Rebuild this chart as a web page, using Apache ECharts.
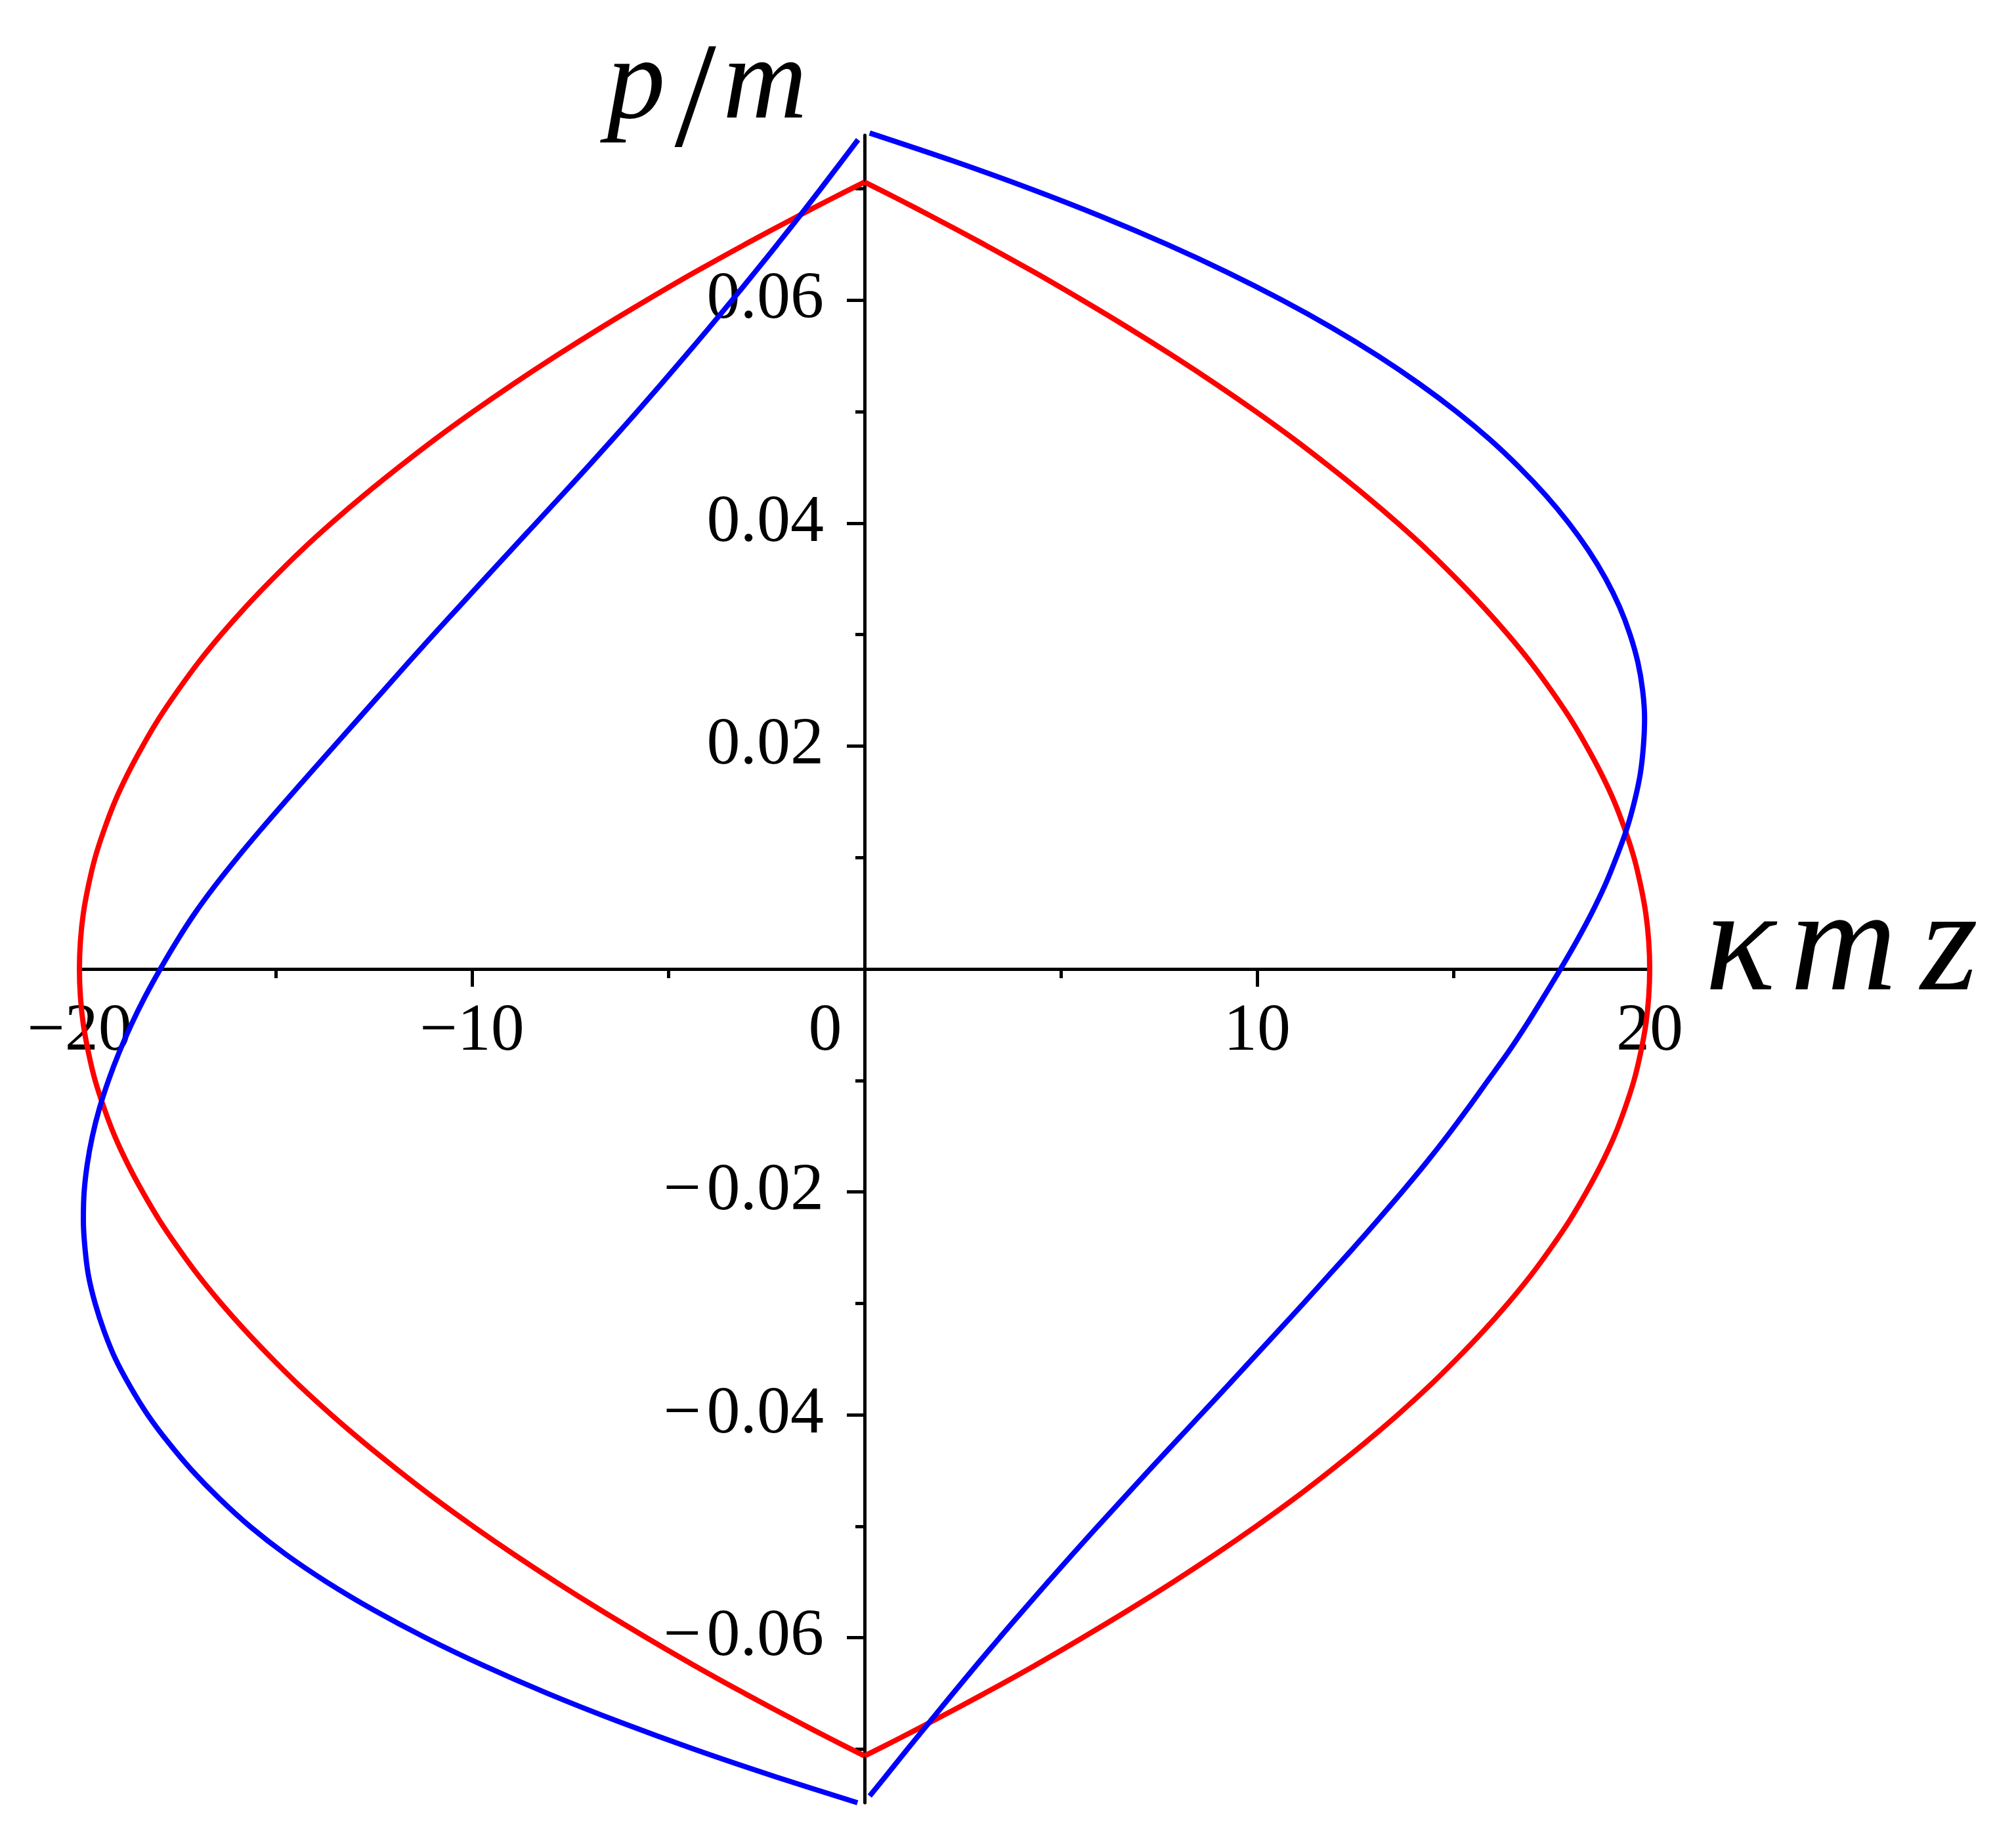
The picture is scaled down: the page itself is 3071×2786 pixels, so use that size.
<!DOCTYPE html>
<html>
<head>
<meta charset="utf-8">
<script src="https://cdn.jsdelivr.net/npm/echarts@6/dist/echarts.min.js"></script>
<style>
  html, body { margin: 0; padding: 0; background: #fff; }
  #main { width: 3071px; height: 2786px; }
</style>
</head>
<body>
<div id="main"></div>
<script>
// 相图数据 [κmz, p/m]，按曲线走向排列
// 红线：顶点 -> 右侧 -> 底点
var redRight = [
  [0, 0.0706], [0.90, 0.0690], [1.72, 0.0675], [3.05, 0.0650], [4.33, 0.0625], [5.55, 0.0600],
  [6.73, 0.0575], [7.86, 0.0550], [8.94, 0.0525], [9.97, 0.0500], [10.95, 0.0475], [11.87, 0.0450],
  [12.75, 0.0425], [13.58, 0.0400], [14.36, 0.0375], [15.08, 0.0350], [15.76, 0.0325], [16.39, 0.0300],
  [16.97, 0.0275], [17.49, 0.0250], [17.97, 0.0225], [18.39, 0.0200], [18.77, 0.0175], [19.10, 0.0150],
  [19.37, 0.0125], [19.60, 0.0100], [19.77, 0.0075], [19.90, 0.0050], [19.975, 0.0025], [20, 0],
  [19.975, -0.0025], [19.90, -0.0050], [19.77, -0.0075], [19.60, -0.0100], [19.37, -0.0125],
  [19.10, -0.0150], [18.77, -0.0175], [18.39, -0.0200], [17.97, -0.0225], [17.49, -0.0250],
  [16.97, -0.0275], [16.39, -0.0300], [15.76, -0.0325], [15.08, -0.0350], [14.36, -0.0375],
  [13.58, -0.0400], [12.75, -0.0425], [11.87, -0.0450], [10.95, -0.0475], [9.97, -0.0500],
  [8.94, -0.0525], [7.86, -0.0550], [6.73, -0.0575], [5.55, -0.0600], [4.33, -0.0625],
  [3.05, -0.0650], [1.72, -0.0675], [0.90, -0.0690], [0, -0.0706]
];
// 红线：底点 -> 左侧 -> 顶点
var redLeft = [
  [0, -0.0706], [-0.90, -0.0690], [-1.72, -0.0675], [-3.05, -0.0650], [-4.33, -0.0625], [-5.55, -0.0600],
  [-6.73, -0.0575], [-7.86, -0.0550], [-8.94, -0.0525], [-9.97, -0.0500], [-10.95, -0.0475], [-11.87, -0.0450],
  [-12.75, -0.0425], [-13.58, -0.0400], [-14.36, -0.0375], [-15.08, -0.0350], [-15.76, -0.0325], [-16.39, -0.0300],
  [-16.97, -0.0275], [-17.49, -0.0250], [-17.97, -0.0225], [-18.39, -0.0200], [-18.77, -0.0175], [-19.10, -0.0150],
  [-19.37, -0.0125], [-19.60, -0.0100], [-19.77, -0.0075], [-19.90, -0.0050], [-19.975, -0.0025], [-20, 0],
  [-19.975, 0.0025], [-19.90, 0.0050], [-19.77, 0.0075], [-19.60, 0.0100], [-19.37, 0.0125],
  [-19.10, 0.0150], [-18.77, 0.0175], [-18.39, 0.0200], [-17.97, 0.0225], [-17.49, 0.0250],
  [-16.97, 0.0275], [-16.39, 0.0300], [-15.76, 0.0325], [-15.08, 0.0350], [-14.36, 0.0375],
  [-13.58, 0.0400], [-12.75, 0.0425], [-11.87, 0.0450], [-10.95, 0.0475], [-9.97, 0.0500],
  [-8.94, 0.0525], [-7.86, 0.0550], [-6.73, 0.0575], [-5.55, 0.0600], [-4.33, 0.0625],
  [-3.05, 0.0650], [-1.72, 0.0675], [-0.90, 0.0690], [0, 0.0706]
];
// 蓝线：右上起点 -> 右侧 -> 下方
var blueRight = [
  [0.13, 0.0750], [2.25, 0.0725], [4.22, 0.0700], [6.04, 0.0675], [7.71, 0.0650], [9.24, 0.0625],
  [10.64, 0.0600], [11.92, 0.0575], [13.08, 0.0550], [14.13, 0.0525], [15.08, 0.0500],
  [15.93, 0.0475], [16.68, 0.0450], [17.35, 0.0425], [17.94, 0.0400], [18.45, 0.0375], [18.88, 0.0350],
  [19.23, 0.0325], [19.50, 0.0300], [19.70, 0.0275], [19.82, 0.0250], [19.87, 0.0225], [19.84, 0.0200],
  [19.76, 0.0175], [19.61, 0.0150], [19.41, 0.0125], [19.15, 0.0100], [18.86, 0.0075], [18.52, 0.0050],
  [18.14, 0.0025], [17.73, 0], [17.30, -0.0025], [16.86, -0.0050], [16.39, -0.0075], [15.88, -0.0100],
  [15.37, -0.0125], [14.84, -0.0150], [14.28, -0.0175], [13.69, -0.0200], [13.08, -0.0225],
  [12.46, -0.0250], [11.82, -0.0275], [11.18, -0.0300], [10.53, -0.0325], [9.875, -0.0350],
  [9.22, -0.0375], [8.56, -0.0400], [7.90, -0.0425], [7.24, -0.0450], [6.59, -0.0475], [5.94, -0.0500],
  [5.30, -0.0525], [4.67, -0.0550], [4.05, -0.0575], [3.44, -0.0600], [2.84, -0.0625], [2.25, -0.0650],
  [1.67, -0.0675], [1.09, -0.0700], [0.52, -0.0725], [0.13, -0.0742]
];
// 蓝线：左下起点 -> 左侧 -> 上方
var blueLeft = [
  [-0.18, -0.0748], [-2.24, -0.0725], [-4.34, -0.0700], [-6.28, -0.0675], [-8.07, -0.0650],
  [-9.70, -0.0625], [-11.18, -0.0600], [-12.51, -0.0575], [-13.70, -0.0550], [-14.75, -0.0525],
  [-15.66, -0.0500], [-16.44, -0.0475], [-17.13, -0.0450], [-17.73, -0.0425],
  [-18.26, -0.0400], [-18.70, -0.0375], [-19.08, -0.0350], [-19.37, -0.0325], [-19.60, -0.0300],
  [-19.77, -0.0275], [-19.86, -0.0250], [-19.90, -0.0225], [-19.88, -0.0200], [-19.80, -0.0175],
  [-19.67, -0.0150], [-19.49, -0.0125], [-19.26, -0.0100], [-18.99, -0.0075], [-18.68, -0.0050],
  [-18.33, -0.0025], [-17.94, 0], [-17.52, 0.0025], [-17.06, 0.0050], [-16.54, 0.0075],
  [-15.975, 0.0100], [-15.38, 0.0125], [-14.765, 0.0150], [-14.14, 0.0175], [-13.51, 0.0200],
  [-12.88, 0.0225], [-12.25, 0.0250], [-11.62, 0.0275], [-10.98, 0.0300], [-10.33, 0.0325],
  [-9.68, 0.0350], [-9.025, 0.0375], [-8.37, 0.0400], [-7.715, 0.0425], [-7.065, 0.0450],
  [-6.425, 0.0475], [-5.795, 0.0500], [-5.175, 0.0525], [-4.565, 0.0550], [-3.965, 0.0575],
  [-3.375, 0.0600], [-2.795, 0.0625], [-2.225, 0.0650], [-1.665, 0.0675], [-1.115, 0.0700],
  [-0.575, 0.0725], [-0.165, 0.0744]
];
// 坐标轴刻度
var yMajorTicks = [-0.06, -0.04, -0.02, 0.02, 0.04, 0.06];
var yMinorTicks = [-0.07, -0.05, -0.03, -0.01, 0.01, 0.03, 0.05, 0.07];

var chart = echarts.init(document.getElementById('main'));
var serif = 'Liberation Serif';

// 网格：零点落在网格正中，坐标轴用 offset 移到零点处（标签跟着轴走）
var gridLeft = 121, gridRight = 558, gridTop = 206, gridBottom = 40;
var gridW = 3071 - gridLeft - gridRight;
var gridH = 2786 - gridTop - gridBottom;

function minus(v, gap) {
  return v < 0 ? '\u2212' + gap + String(Math.abs(v)) : String(v);
}

function curve(name, data, color) {
  return {
    name: name,
    type: 'line',
    data: data,
    smooth: 0.3,
    showSymbol: false,
    symbol: 'none',
    clip: false,
    lineStyle: { color: color, width: 8 },
    xAxisIndex: 0,
    yAxisIndex: 0
  };
}

var axisColor = '#000';
var italic = { fontFamily: serif, fontStyle: 'italic', fontSize: 225, color: '#000' };

var option = {
  animation: false,
  backgroundColor: '#fff',
  grid: {
    left: gridLeft,
    right: gridRight,
    top: gridTop,
    bottom: gridBottom,
    containLabel: false,
    outerBoundsMode: 'none'
  },
  xAxis: {
    type: 'value',
    min: -20,
    max: 20,
    interval: 10,
    position: 'bottom',
    offset: -gridH / 2,
    name: '{k|\u03BA}{m|m}{z|z}',
    nameLocation: 'end',
    nameGap: 84,
    nameTextStyle: {
      verticalAlign: 'middle',
      padding: [0, 0, 56, 0],
      rich: {
        k: Object.assign({ padding: [0, 22, 0, 0] }, italic),
        m: Object.assign({ padding: [0, 22, 0, 0] }, italic),
        z: Object.assign({ padding: [0, 0, 0, 14] }, italic)
      }
    },
    axisLine: { onZero: false, lineStyle: { color: axisColor, width: 5 } },
    axisTick: { show: true, length: 27, lineStyle: { color: axisColor, width: 5 } },
    minorTick: { show: true, splitNumber: 2, length: 14, lineStyle: { color: axisColor, width: 5 } },
    splitLine: { show: false },
    minorSplitLine: { show: false },
    axisLabel: {
      fontFamily: serif,
      fontSize: 102,
      color: '#000',
      margin: 96,
      verticalAlign: 'middle',
      formatter: function (v) {
        if (v === 0) return '{z|0}';
        return minus(v, '');
      },
      rich: {
        z: { fontFamily: serif, fontSize: 102, color: '#000', padding: [0, 120, 0, 0] }
      }
    }
  },
  yAxis: [
    {
      type: 'value',
      min: -0.0748,
      max: 0.0748,
      position: 'left',
      offset: -gridW / 2,
      name: '{i|p}{s|/}{i|m}',
      nameLocation: 'end',
      nameGap: 74,
      nameTextStyle: {
        align: 'center',
        verticalAlign: 'middle',
        padding: [0, 480, 0, 0],
        rich: {
          i: { fontFamily: serif, fontStyle: 'italic', fontSize: 178, color: '#000' },
          s: { fontFamily: serif, fontSize: 228, color: '#000', padding: [60, 10, 0, 14] }
        }
      },
      axisLine: { onZero: false, lineStyle: { color: axisColor, width: 5 } },
      axisTick: {
        show: true, length: 27, customValues: yMajorTicks,
        lineStyle: { color: axisColor, width: 5 }
      },
      splitLine: { show: false },
      axisLabel: {
        fontFamily: serif,
        fontSize: 102,
        color: '#000',
        margin: 62,
        customValues: yMajorTicks,
        formatter: function (v) {
          return minus(Math.round(v * 100) / 100, '\u200A');
        }
      }
    },
    {
      // 只画次刻度
      type: 'value',
      min: -0.0748,
      max: 0.0748,
      position: 'left',
      offset: -gridW / 2,
      axisLine: { show: false, onZero: false },
      axisTick: {
        show: true, length: 14, customValues: yMinorTicks,
        lineStyle: { color: axisColor, width: 5 }
      },
      axisLabel: { show: false },
      splitLine: { show: false }
    }
  ],
  series: [
    curve('red-right', redRight, '#ff0000'),
    curve('red-left', redLeft, '#ff0000'),
    curve('blue-right', blueRight, '#0000ff'),
    curve('blue-left', blueLeft, '#0000ff')
  ]
};

chart.setOption(option);
</script>
</body>
</html>
